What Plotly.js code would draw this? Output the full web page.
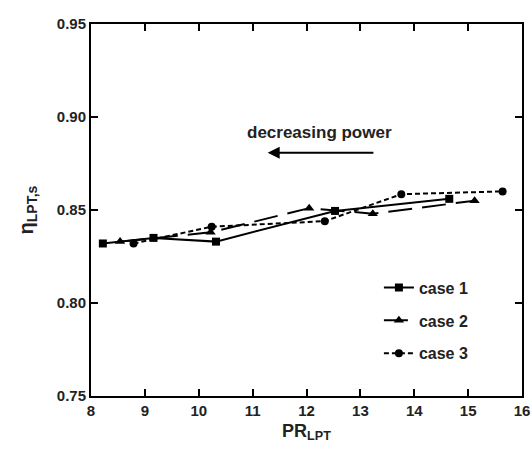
<!DOCTYPE html>
<html>
<head>
<meta charset="utf-8">
<script src="https://cdn.plot.ly/plotly-3.0.1.min.js"></script>
<style>html,body{margin:0;padding:0;background:#fff;}#chart{width:531px;height:451px;}</style>
</head>
<body>
<div id="chart"></div>
<script>
const case1X = [8.22, 9.16, 10.32, 12.53, 14.65];
const case1Y = [0.832, 0.835, 0.833, 0.8495, 0.856];
const case2X = [8.54, 10.22, 12.05, 13.23, 15.12];
const case2Y = [0.833, 0.838, 0.851, 0.848, 0.855];
const case3X = [8.79, 10.24, 12.34, 13.76, 15.64];
const case3Y = [0.832, 0.841, 0.844, 0.8585, 0.860];
const seriesNames = ['case 1', 'case 2', 'case 3'];
const xTicks = [8, 9, 10, 11, 12, 13, 14, 15, 16];
const yTicks = [0.75, 0.80, 0.85, 0.90, 0.95];

const font = 'Liberation Sans, Arial, sans-serif';
const traces = [
  {x: case1X, y: case1Y, name: seriesNames[0], legendgroup: 'a', mode: 'lines+markers',
   line: {color: '#000', width: 2, dash: 'solid'}, marker: {symbol: 'square', size: 8, color: '#000'}},
  {x: case2X, y: case2Y, name: seriesNames[1], legendgroup: 'b', mode: 'lines+markers',
   line: {color: '#000', width: 2, dash: '24px,10px'}, marker: {symbol: 'triangle-up', size: 9, color: '#000'}},
  {x: case3X, y: case3Y, name: seriesNames[2], legendgroup: 'c', mode: 'lines+markers',
   line: {color: '#000', width: 2, dash: '5px,3px'}, marker: {symbol: 'circle', size: 8, color: '#000'}}
];
const axisCommon = {
  showline: true, linecolor: '#000', linewidth: 2, mirror: 'ticks',
  ticks: 'inside', ticklen: 7, tickwidth: 2, tickcolor: '#000',
  showgrid: false, zeroline: false,
  tickfont: {family: font, size: 15, color: '#222', weight: 'bold'}
};
const layout = {
  width: 531, height: 451,
  margin: {l: 91, r: 9, t: 24, b: 55},
  paper_bgcolor: '#fff', plot_bgcolor: '#fff',
  showlegend: true,
  legend: {x: 0.668, y: 0.337, xanchor: 'left', yanchor: 'top', traceorder: 'grouped',
           tracegroupgap: 9, bgcolor: 'rgba(0,0,0,0)',
           font: {family: font, size: 16, color: '#222', weight: 'bold'}},
  xaxis: Object.assign({}, axisCommon, {range: [8, 16], tickvals: xTicks, ticktext: xTicks.map(String),
    title: {text: 'PR<sub>LPT</sub>', font: {family: font, size: 18, color: '#222', weight: 'bold'}, standoff: 6}}),
  yaxis: Object.assign({}, axisCommon, {range: [0.75, 0.95], tickvals: yTicks, ticktext: yTicks.map(v => v.toFixed(2)),
    title: {text: 'η<sub>LPT,s</sub>', font: {family: font, size: 20, color: '#222', weight: 'bold'}, standoff: 18}}),
  annotations: [
    {x: 11.28, y: 0.8808, ax: 13.27, ay: 0.8808, xref: 'x', yref: 'y', axref: 'x', ayref: 'y',
     showarrow: true, arrowhead: 2, arrowsize: 1.2, arrowwidth: 2, arrowcolor: '#000', text: ''},
    {x: 12.25, y: 0.8918, xref: 'x', yref: 'y', showarrow: false, text: 'decreasing power',
     font: {family: font, size: 17, color: '#222', weight: 'bold'}}
  ]
};
Plotly.newPlot('chart', traces, layout, {displayModeBar: false, staticPlot: true});
</script>
</body>
</html>
